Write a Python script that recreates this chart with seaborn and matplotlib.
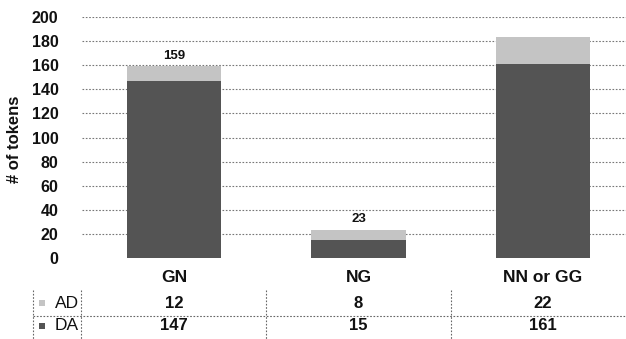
import matplotlib
matplotlib.use("Agg")
import matplotlib.pyplot as plt
import matplotlib.transforms as mtransforms
import seaborn as sns
import pandas as pd

categories = ["GN", "NG", "NN or GG"]
ad_values = [12, 8, 22]
da_values = [147, 15, 161]
total_labels = ["159", "23", ""]
yticks = [0, 20, 40, 60, 80, 100, 120, 140, 160, 180, 200]

sns.set_theme(style="white")
plt.rcParams['font.family'] = ['Liberation Sans', 'DejaVu Sans']

df = pd.DataFrame({"cat": categories, "AD": ad_values, "DA": da_values})
df["total"] = df["AD"] + df["DA"]

W, H = 626, 339
fig = plt.figure(figsize=(W / 100, H / 100), dpi=100)
ax = fig.add_axes([82 / W, 81 / H, (635 - 82) / W, 241 / H])

light = "#c4c4c4"
dark = "#545454"
sns.barplot(data=df, x="cat", y="total", color=light, width=0.51, ax=ax,
            saturation=1, linewidth=0)
sns.barplot(data=df, x="cat", y="DA", color=dark, width=0.51, ax=ax,
            saturation=1, linewidth=0)

ax.set_ylim(0, 200)
ax.set_xlim(-0.5, 2.5)
ax.set_yticks(yticks)
ax.set_yticklabels([str(t) for t in yticks], fontsize=11.5, fontweight="bold", color="#111111")
ax.tick_params(axis="y", length=0, pad=17)
ax.set_xticks([])
ax.set_xlabel("")
ax.set_ylabel("")
for s in ax.spines.values():
    s.set_visible(False)
ax.grid(False)
for t in yticks[1:]:
    ax.axhline(t, color="#777777", lw=0.8, ls=(0, (1.5, 1.5)), zorder=0)
ax.set_axisbelow(True)

fig.text(15 / W, (H - 139) / H, "# of tokens", rotation=90, ha="center", va="center",
         fontsize=12, fontweight="bold", color="#111111")

# total labels
for i, (tot, lab) in enumerate(zip(df["total"], total_labels)):
    if lab:
        ax.text(i, tot + 4, lab, ha="center", va="bottom", fontsize=9.5,
                fontweight="bold", color="#111111")

# data table below
tr = mtransforms.blended_transform_factory(ax.transData, fig.transFigure)
def fy(p):
    return (H - p) / H

for i, c in enumerate(categories):
    fig.text(i, fy(278), c, transform=tr, ha="center", va="center",
             fontsize=12.5, fontweight="bold", color="#111111")
    fig.text(i, fy(303), str(ad_values[i]), transform=tr, ha="center", va="center",
             fontsize=12, fontweight="bold", color="#111111")
    fig.text(i, fy(326), str(da_values[i]), transform=tr, ha="center", va="center",
             fontsize=12, fontweight="bold", color="#111111")

fig.text(79 / W, fy(303), "AD", ha="right", va="center", fontsize=12.5,
         color="#111111")
fig.text(79 / W, fy(326), "DA", ha="right", va="center", fontsize=12.5,
         color="#111111")
fig.patches.append(plt.Rectangle((39 / W, fy(306)), 6 / W, 6 / H, transform=fig.transFigure,
                                 facecolor=light, edgecolor="none"))
fig.patches.append(plt.Rectangle((39 / W, fy(329)), 6 / W, 6 / H, transform=fig.transFigure,
                                 facecolor=dark, edgecolor="none"))

lkw = dict(color="#666666", lw=0.8, ls=(0, (1.5, 1.5)))
fig.lines.append(plt.Line2D([33 / W, 1], [fy(316), fy(316)], transform=fig.transFigure, **lkw))
for xp in [33, 81, 266, 451]:
    fig.lines.append(plt.Line2D([xp / W, xp / W], [fy(290), fy(339)],
                                transform=fig.transFigure, **lkw))

fig.savefig("out.png", dpi=100)
